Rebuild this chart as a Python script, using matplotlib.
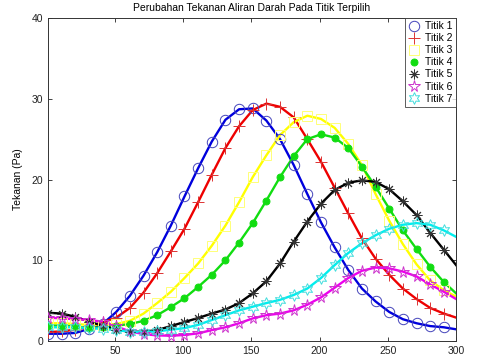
import matplotlib
matplotlib.use("Agg")
import matplotlib.pyplot as plt
from matplotlib.lines import Line2D

x = [1, 11, 21, 31, 41, 51, 61, 71, 81, 91, 101, 111, 121, 131, 141, 151,
     161, 171, 181, 191, 201, 211, 221, 231, 241, 251, 261, 271, 281, 291, 300]

titik1 = [0.9, 0.9, 1.0, 1.5, 2.1, 3.6, 5.6, 8.1, 11.0, 14.3, 17.9, 21.4, 24.7, 27.4, 28.7, 28.8,
          27.3, 25.0, 21.8, 18.2, 14.7, 11.6, 8.8, 6.5, 4.9, 3.6, 2.7, 2.2, 1.85, 1.7, 1.45]
titik2 = [1.1, 1.2, 1.4, 1.8, 2.3, 2.9, 4.1, 6.0, 8.4, 11.1, 13.9, 17.2, 20.6, 23.9, 26.6, 28.6,
          29.4, 29.0, 27.7, 25.0, 22.2, 19.0, 15.8, 12.7, 10.2, 8.2, 6.5, 5.2, 4.1, 3.4, 2.9]
titik3 = [2.2, 2.2, 2.1, 2.0, 2.0, 2.1, 2.5, 3.4, 4.7, 6.1, 7.8, 9.6, 11.8, 14.3, 17.2, 20.3,
          23.0, 25.5, 27.1, 27.9, 27.5, 26.4, 24.4, 21.8, 18.2, 14.9, 12.0, 9.5, 7.5, 6.3, 5.5]
titik4 = [1.9, 1.9, 1.8, 1.6, 1.7, 1.9, 2.1, 2.5, 3.2, 4.2, 5.3, 6.7, 8.2, 10.0, 12.2, 14.6,
          17.4, 20.3, 22.9, 25.0, 25.6, 25.2, 23.9, 21.6, 19.1, 16.4, 13.7, 11.4, 9.2, 7.3, 5.9]
titik5 = [3.5, 3.4, 3.0, 2.4, 1.9, 1.4, 1.15, 1.15, 1.35, 1.85, 2.35, 2.85, 3.4, 3.9, 4.7, 5.9,
          7.4, 9.6, 12.3, 14.8, 17.0, 18.7, 19.6, 19.9, 19.7, 18.8, 17.3, 15.6, 13.4, 11.3, 9.4]
titik6 = [2.9, 2.8, 2.7, 2.6, 2.4, 1.8, 1.2, 0.85, 0.7, 0.65, 0.75, 0.95, 1.35, 1.7, 2.2, 2.8,
          3.2, 3.4, 3.8, 4.5, 5.4, 6.6, 7.8, 8.7, 9.1, 9.0, 8.6, 8.0, 7.0, 6.1, 5.2]
titik7 = [1.7, 1.7, 1.7, 1.6, 1.5, 1.35, 1.15, 1.1, 1.2, 1.4, 1.6, 2.0, 2.6, 3.2, 3.8, 4.25,
          4.7, 5.1, 5.7, 6.5, 7.8, 9.4, 10.9, 12.1, 13.1, 13.9, 14.4, 14.6, 14.4, 13.7, 12.9]

labels = ["Titik 1", "Titik 2", "Titik 3", "Titik 4", "Titik 5", "Titik 6", "Titik 7"]
series = [titik1, titik2, titik3, titik4, titik5, titik6, titik7]
colors = ["#0000dd", "#ee0000", "#ffff00", "#11dd11", "#000000", "#ee00ee", "#00eeee"]
mcolors = ["#4444bb", "#dd3333", "#ffff77", "#11dd11", "#333333", "#cc33cc", "#44dddd"]
markers = ["o", "+", "s", "o", (8, 2, 0), "*", (6, 1, 0)]
msizes = [7.5, 8, 7, 5, 7, 8.5, 8.5]

plt.rcParams['font.family'] = ['Liberation Sans', 'DejaVu Sans']
fig = plt.figure(figsize=(4.79, 3.59), dpi=100)
ax = fig.add_axes([0.1002, 0.0501, 0.852, 0.8997])

handles = []
for ys, c, mc, m, ms, lab in zip(series, colors, mcolors, markers, msizes, labels):
    xm = x[:-1]
    ym = ys[:-1]
    ax.plot(x, ys, '-', color=c, lw=1.7, zorder=2)
    filled = (m == "o" and ms == 5)
    ax.plot(xm, ym, linestyle='none', marker=m, markersize=ms,
            markerfacecolor=(mc if filled else 'none'), markeredgecolor=mc,
            markeredgewidth=0.7, zorder=3)
    handles.append(Line2D([], [], linestyle='none', marker=m, markersize=ms,
                          markerfacecolor=(mc if filled else 'none'),
                          markeredgecolor=mc, markeredgewidth=0.7))

ax.set_xlim(1, 300)
ax.set_ylim(0, 40)
ax.set_xticks([50, 100, 150, 200, 250, 300])
ax.set_yticks([0, 10, 20, 30, 40])
ax.tick_params(direction='in', top=True, right=True, labelsize=7.5, length=3, width=0.6,
               colors='#222222')
for s in ax.spines.values():
    s.set_linewidth(0.7)
    s.set_color('#333333')

ax.set_title("Perubahan Tekanan Aliran Darah Pada Titik Terpilih", fontsize=7.5, pad=5)
ax.set_ylabel("Tekanan (Pa)", fontsize=7.5, labelpad=6)
ax.set_xlabel("Waktu (s)", fontsize=7.5, labelpad=4)

leg = ax.legend(handles, labels, loc='upper right', fontsize=7.5, borderaxespad=0,
                frameon=True, fancybox=False, edgecolor='#333333', handlelength=1.2,
                handletextpad=0.5, labelspacing=0.2, borderpad=0.3)
leg.get_frame().set_linewidth(0.7)

fig.savefig("out.png", dpi=100)
